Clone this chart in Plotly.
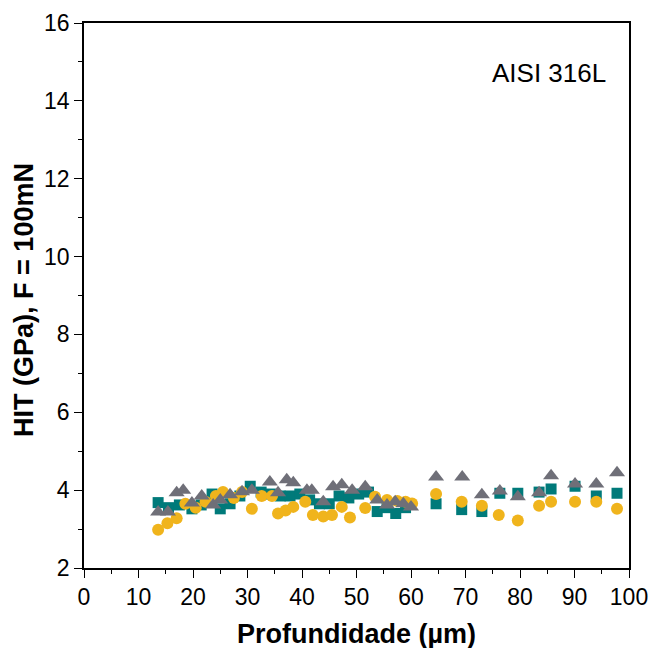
import plotly.graph_objects as go

# Teal squares
sq_x = [13.6, 15.5, 17.5, 19.8, 21.5, 23.5, 25.0, 26.8, 28.6, 30.5, 32.5, 34.2, 36.0, 37.8, 39.6,
        41.4, 43.2, 45.0, 46.8, 48.6, 50.4, 52.2, 53.8, 55.6, 57.2, 59.0,
        64.6, 69.3, 73.0, 76.3, 79.6, 83.5, 85.7, 90.1, 94.0, 97.8]
sq_y = [3.68, 3.55, 3.62, 3.52, 3.62, 3.90, 3.52, 3.65, 3.85, 4.10, 3.95, 3.90, 3.85, 3.85, 3.90,
        3.75, 3.65, 3.65, 3.85, 3.80, 3.90, 3.95, 3.45, 3.55, 3.40, 3.55,
        3.65, 3.50, 3.45, 3.92, 3.92, 3.95, 4.03, 4.10, 3.85, 3.92]

# Gold circles
ci_x = [13.6, 15.3, 17.0, 18.6, 20.5, 22.3, 24.2, 25.5, 27.5, 29.0, 30.8, 32.6, 34.5, 35.6, 37.0,
        38.4, 40.6, 42.0, 43.9, 45.5, 47.3, 48.8, 51.6, 53.4, 55.6, 57.5, 59.0, 60.2,
        64.6, 69.3, 73.0, 76.1, 79.6, 83.5, 85.7, 90.1, 94.0, 97.8]
ci_y = [2.98, 3.15, 3.28, 3.65, 3.55, 3.70, 3.85, 3.95, 3.80, 3.95, 3.52, 3.85, 3.85, 3.40, 3.48,
        3.57, 3.70, 3.36, 3.32, 3.36, 3.57, 3.30, 3.54, 3.83, 3.75, 3.72, 3.70, 3.66,
        3.90, 3.70, 3.60, 3.36, 3.22, 3.60, 3.70, 3.70, 3.70, 3.52]

# Gray triangles
tr_x = [13.6, 15.4, 17.0, 18.2, 19.8, 21.6, 23.7, 25.0, 26.8, 29.0, 30.8, 34.1, 35.6, 37.2, 38.4,
        40.9, 41.8, 43.9, 45.7, 47.3, 49.2, 51.6, 53.8, 55.6, 57.1, 58.6, 60.0,
        64.6, 69.4, 73.0, 76.3, 79.6, 83.5, 85.7, 90.1, 94.0, 97.8]
tr_y = [3.44, 3.44, 3.93, 4.00, 3.67, 3.85, 3.62, 3.75, 3.88, 3.96, 4.00, 4.21, 3.93, 4.27, 4.19,
        4.00, 4.00, 3.70, 4.09, 4.14, 4.00, 4.09, 3.75, 3.62, 3.70, 3.65, 3.57,
        4.34, 4.34, 3.88, 3.98, 3.83, 3.93, 4.37, 4.16, 4.16, 4.45]

x_ticks = [0, 10, 20, 30, 40, 50, 60, 70, 80, 90, 100]
y_ticks = [2, 4, 6, 8, 10, 12, 14, 16]

FONT = "Liberation Sans, Arial"

fig = go.Figure()
fig.add_trace(go.Scatter(x=sq_x, y=sq_y, mode="markers",
                         marker=dict(symbol="square", size=11, color="#007A7A"),
                         showlegend=False))
fig.add_trace(go.Scatter(x=ci_x, y=ci_y, mode="markers",
                         marker=dict(symbol="circle", size=12, color="#F0B41C"),
                         showlegend=False))
fig.add_trace(go.Scatter(x=tr_x, y=tr_y, mode="markers",
                         marker=dict(symbol="triangle-up", size=14, color="#6F6F78"),
                         showlegend=False))

axis_common = dict(showline=True, linecolor="black", linewidth=1.5, mirror=True,
                   ticks="outside", ticklen=8, tickwidth=1.2, tickcolor="black",
                   showgrid=False, zeroline=False, automargin=False,
                   tickfont=dict(family=FONT, size=23, color="black"))

fig.update_xaxes(range=[0, 100], tickvals=x_ticks, ticktext=[str(v) for v in x_ticks],
                 minor=dict(ticks="outside", ticklen=4, tickwidth=1.2, tickcolor="black", dtick=5, tick0=0),
                 **axis_common)
fig.update_yaxes(range=[2, 16], tickvals=y_ticks, ticktext=[str(v) for v in y_ticks],
                 minor=dict(ticks="outside", ticklen=4, tickwidth=1.2, tickcolor="black", dtick=1, tick0=0),
                 **axis_common)

fig.add_annotation(x=0.5, y=-0.121, xref="paper", yref="paper", text="<b>Profundidade (µm)</b>",
                   showarrow=False, xanchor="center", yanchor="middle",
                   font=dict(family=FONT, size=27, color="black"))
fig.add_annotation(x=-0.110, y=0.492, xref="paper", yref="paper", text="<b>HIT (GPa), F = 100mN</b>",
                   showarrow=False, xanchor="center", yanchor="middle", textangle=-90,
                   font=dict(family=FONT, size=27, color="black"))

fig.add_annotation(x=85.4, y=14.72, xref="x", yref="y", text="AISI 316L", showarrow=False,
                   font=dict(family=FONT, size=26, color="black"))

fig.update_layout(width=652, height=648, margin=dict(l=84, r=23, t=23, b=80),
                  plot_bgcolor="white", paper_bgcolor="white")

fig.write_html("out.html")
